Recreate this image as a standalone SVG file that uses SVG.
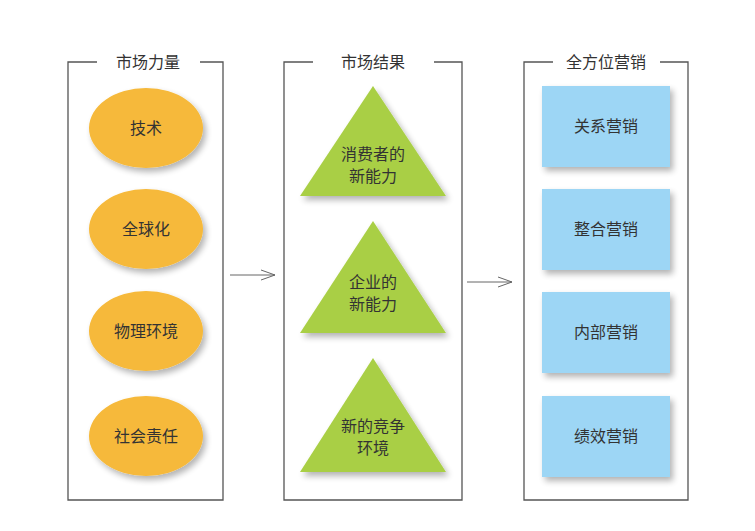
<svg xmlns="http://www.w3.org/2000/svg" width="755" height="531" viewBox="0 0 755 531">
<defs>
<filter id="sh" x="-20%" y="-20%" width="150%" height="150%"><feGaussianBlur in="SourceAlpha" stdDeviation="3"/><feOffset dx="3" dy="4"/><feComponentTransfer><feFuncA type="linear" slope="0.3"/></feComponentTransfer><feMerge><feMergeNode/><feMergeNode in="SourceGraphic"/></feMerge></filter>
<marker id="ar" markerWidth="16" markerHeight="12" refX="15" refY="6" orient="auto" markerUnits="userSpaceOnUse"><path d="M1,1 L15,6 L1,11" fill="none" stroke="#666" stroke-width="1"/></marker>
</defs>
<style>
.fr{fill:none;stroke:#555;stroke-width:1.3}
.t{font-family:"Noto Sans CJK SC",sans-serif;font-size:16px;fill:#333;text-anchor:middle}
.el{fill:#f6b93a;filter:url(#sh)}
.tr{fill:#a9cf45;filter:url(#sh)}
.rc{fill:#9dd6f5;filter:url(#sh)}
</style>
<rect width="755" height="531" fill="#fff"/>
<g id="frames">
<path class="fr" d="M97,62 H68 V500 H223 V62 H200"/>
<text class="t" x="148" y="68">市场力量</text>
<path class="fr" d="M313,62 H284 V500 H462 V62 H434"/>
<text class="t" x="373" y="68">市场结果</text>
<path class="fr" d="M553,62 H524 V500 H688 V62 H660"/>
<text class="t" x="606" y="68">全方位营销</text>
</g>
<g id="n1"><ellipse class="el" cx="146" cy="128" rx="57" ry="40"/><text class="t" x="146" y="134">技术</text></g>
<g id="n2"><ellipse class="el" cx="146" cy="229" rx="57" ry="40"/><text class="t" x="146" y="235">全球化</text></g>
<g id="n3"><ellipse class="el" cx="146" cy="331" rx="57" ry="40"/><text class="t" x="146" y="337">物理环境</text></g>
<g id="n4"><ellipse class="el" cx="146" cy="436" rx="57" ry="40"/><text class="t" x="146" y="442">社会责任</text></g>
<g id="n5"><polygon class="tr" points="373,86 446,196 300,196"/><text class="t" x="373" y="160">消费者的</text><text class="t" x="373" y="182">新能力</text></g>
<g id="n6"><polygon class="tr" points="373,221 446,333 300,333"/><text class="t" x="373" y="288">企业的</text><text class="t" x="373" y="310">新能力</text></g>
<g id="n7"><polygon class="tr" points="373,358 446,472 300,472"/><text class="t" x="373" y="432">新的竞争</text><text class="t" x="373" y="454">环境</text></g>
<g id="n8"><rect class="rc" x="542" y="86" width="128" height="81"/><text class="t" x="606" y="132">关系营销</text></g>
<g id="n9"><rect class="rc" x="542" y="189" width="128" height="81"/><text class="t" x="606" y="235">整合营销</text></g>
<g id="n10"><rect class="rc" x="542" y="292" width="128" height="81"/><text class="t" x="606" y="338">内部营销</text></g>
<g id="n11"><rect class="rc" x="542" y="396" width="128" height="81"/><text class="t" x="606" y="442">绩效营销</text></g>
<g id="connectors" stroke="#666" stroke-width="1" fill="none">
<line x1="230" y1="275" x2="275" y2="275" marker-end="url(#ar)"/>
<line x1="467" y1="282" x2="512" y2="282" marker-end="url(#ar)"/>
</g>
</svg>
